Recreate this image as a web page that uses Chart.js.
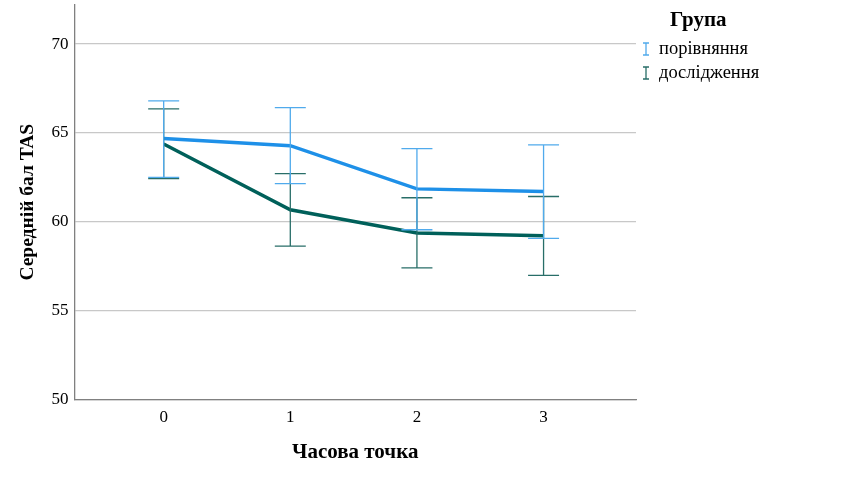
<!DOCTYPE html>
<html>
<head>
<meta charset="utf-8">
<script src="https://cdn.jsdelivr.net/npm/chart.js@4"></script>
<style>
  body { margin: 0; background: #fff; }
  #wrap { width: 850px; height: 500px; position: relative; }
</style>
</head>
<body>
<div id="wrap"><canvas id="tas-chart"></canvas></div>
<script>
// time points on x
var timePoints = [0, 1, 2, 3]

// порівняння (comparison group)
var compMean = [64.68, 64.28, 61.85, 61.70]
var compLow = [62.50, 62.15, 59.55, 59.06]
var compHigh = [66.80, 66.42, 64.12, 64.33]

// дослідження (study group)
var studyMean = [64.38, 60.67, 59.37, 59.21]
var studyLow = [62.43, 58.63, 57.40, 56.98]
var studyHigh = [66.35, 62.71, 61.35, 61.42]

var groupNames = ['порівняння', 'дослідження']
var yTicks = [50, 55, 60, 65, 70]

var blue = 'rgb(30, 144, 232)'
var blueBar = 'rgb(80, 170, 236)'
var teal = 'rgb(0, 96, 90)'
var tealBar = 'rgb(40, 110, 104)'
var serif = '"Liberation Serif", "Times New Roman", serif'

function points(ys) {
    return timePoints.map(function (t, i) { return { x: t, y: ys[i] } })
}

// whiskers drawn from the arrays through the chart scales
const errorBars = {
    id: 'errorBars',
    afterDatasetsDraw: function (chart) {
        var ctx = chart.ctx
        var xs = chart.scales.x
        var ys = chart.scales.y
        var sets = [
            { lo: studyLow, hi: studyHigh, color: tealBar },
            { lo: compLow, hi: compHigh, color: blueBar }
        ]
        ctx.save()
        ctx.lineWidth = 1.3
        sets.forEach(function (s) {
            ctx.strokeStyle = s.color
            timePoints.forEach(function (t, i) {
                var px = xs.getPixelForValue(t)
                var top = ys.getPixelForValue(s.hi[i])
                var bot = ys.getPixelForValue(s.lo[i])
                ctx.beginPath()
                ctx.moveTo(px, top); ctx.lineTo(px, bot)
                ctx.moveTo(px - 15.5, top); ctx.lineTo(px + 15.5, top)
                ctx.moveTo(px - 15.5, bot); ctx.lineTo(px + 15.5, bot)
                ctx.stroke()
            })
        })
        ctx.restore()
    }
}

// legend on the right, SPSS style
const sideLegend = {
    id: 'sideLegend',
    afterDraw: function (chart) {
        var ctx = chart.ctx
        var x0 = chart.chartArea.right + 10
        ctx.save()
        ctx.fillStyle = '#000'
        ctx.textBaseline = 'middle'
        ctx.font = 'bold 21px ' + serif
        ctx.fillText('Група', 670, 21)
        ctx.font = '18.5px ' + serif
        var colors = [blueBar, tealBar]
        groupNames.forEach(function (name, i) {
            var y = 49 + i * 24
            ctx.strokeStyle = colors[i]
            ctx.lineWidth = 1.3
            ctx.beginPath()
            ctx.moveTo(x0, y - 6); ctx.lineTo(x0, y + 6)
            ctx.moveTo(x0 - 3, y - 6); ctx.lineTo(x0 + 3, y - 6)
            ctx.moveTo(x0 - 3, y + 6); ctx.lineTo(x0 + 3, y + 6)
            ctx.stroke()
            ctx.fillText(name, x0 + 13, y)
        })
        ctx.restore()
    }
}

const config = {
    type: 'line',
    data: {
        datasets: [{
            label: groupNames[1],
            data: points(studyMean),
            borderColor: teal,
            borderWidth: 3.5,
            pointRadius: 0,
            tension: 0
        }, {
            label: groupNames[0],
            data: points(compMean),
            borderColor: blue,
            borderWidth: 3.5,
            pointRadius: 0,
            tension: 0
        }]
    },
    options: {
        responsive: false,
        animation: false,
        layout: { padding: { left: 0, right: 214, top: 5, bottom: 0 } },
        plugins: {
            legend: { display: false },
            tooltip: { enabled: false }
        },
        scales: {
            x: {
                type: 'linear',
                min: -0.705,
                max: 3.73,
                afterBuildTicks: function (scale) {
                    scale.ticks = timePoints.map(function (t) { return { value: t } })
                },
                grid: { display: false, drawTicks: false },
                border: { display: true, color: '#808080', width: 1.3 },
                ticks: { color: '#000', padding: 8, font: { family: serif, size: 17 } },
                title: {
                    display: true,
                    text: 'Часова точка',
                    color: '#000',
                    font: { family: serif, size: 21, weight: 'bold' },
                    padding: { top: 4, bottom: 35 }
                }
            },
            y: {
                min: 50,
                max: 72.2,
                afterBuildTicks: function (scale) {
                    scale.ticks = yTicks.map(function (v) { return { value: v } })
                },
                afterFit: function (scale) {
                    scale.paddingTop = 0
                    scale.paddingBottom = 0
                },
                grid: { color: '#c8c8c8', lineWidth: 1.2, drawTicks: false },
                border: { display: true, color: '#808080', width: 1.3 },
                ticks: { color: '#000', padding: 6, font: { family: serif, size: 17 } },
                title: {
                    display: true,
                    text: 'Середній бал TAS',
                    color: '#000',
                    font: { family: serif, size: 19.5, weight: 'bold' },
                    padding: { top: 16, bottom: 6 }
                }
            }
        }
    },
    plugins: [errorBars, sideLegend]
}

var canvas = document.getElementById('tas-chart')
canvas.width = 850
canvas.height = 500
const tasChart = new Chart(canvas, config)
</script>
</body>
</html>
